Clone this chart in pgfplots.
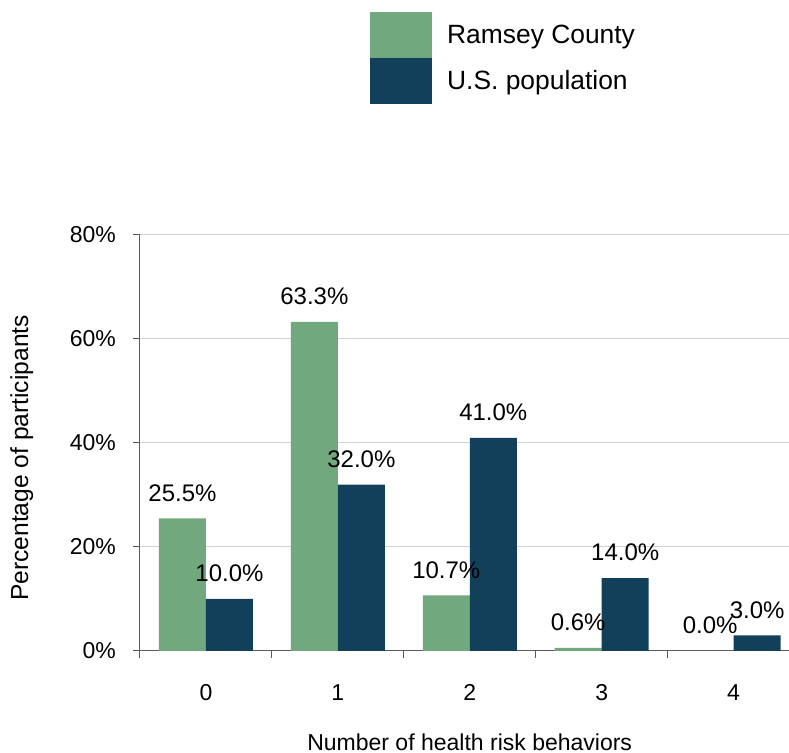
\documentclass[border=0pt]{standalone}
\usepackage{pgfplots}
\pgfplotsset{compat=1.18}
\usepackage{fontspec}
\setmainfont{Liberation Sans}
\definecolor{rcgreen}{HTML}{71A87E}
\definecolor{usblue}{HTML}{12405A}
\definecolor{axisgray}{HTML}{5A5A5A}
\pgfplotsset{sqlegend/.style={legend image code/.code={\fill[##1,draw=none] (0pt,-11.5pt) rectangle (31pt,11.5pt);}}}
\begin{document}
\begin{tikzpicture}[font=\fontsize{11.5}{13.8}\selectfont]
\path[use as bounding box] (-70pt,-51pt) rectangle (324.5pt,325.5pt);
\begin{axis}[
  scale only axis, width=324.5pt, height=208pt,
  ybar=0pt, bar width=23.5pt,
  xmin=-0.5, xmax=4.42, ymin=0, ymax=80,
  axis lines*=left,
  axis line style={axisgray, line width=0.5pt},
  xtick={0,1,2,3,4},
  xticklabels={0,1,2,3,4},
  minor xtick={-0.5,0.5,1.5,2.5,3.5,4.5},
  major x tick style={draw=none},
  ytick={0,20,40,60,80},
  yticklabel={\pgfmathprintnumber{\tick}\%},
  tick align=outside, major tick length=3.5pt, minor tick length=3.5pt,
  tick style={axisgray, line width=0.5pt},
  ymajorgrids, grid style={gray!35, line width=0.5pt},
  /pgf/number format/assume math mode=true,
  xticklabel style={yshift=-9.8pt},
  yticklabel style={xshift=-5pt},
  xlabel={Number of health risk behaviors},
  ylabel={Percentage of participants},
  xlabel style={at={(axis description cs:0.508,-0.219)}, anchor=center},
  ylabel style={at={(axis description cs:-0.182,0.464)}, anchor=center,
    font=\fontsize{12.3}{14.5}\selectfont},
  nodes near coords={\pgfmathprintnumber[fixed,fixed zerofill,precision=1]{\pgfplotspointmeta}\%},
  nodes near coords style={yshift=5pt, font=\fontsize{12}{14}\selectfont},
  legend style={at={(axis description cs:0.354,1.536)}, anchor=north west,
    draw=none, fill=none, inner sep=0pt, row sep=0pt, column sep=7.5pt,
    nodes={inner sep=0pt, anchor=west}, font=\fontsize{13.2}{15.5}\selectfont},
  legend cell align=left,
]
\addplot[fill=rcgreen, draw=none, sqlegend] coordinates {(0,25.5) (1,63.3) (2,10.7) (3,0.6) (4,0.0)};
\addplot[fill=usblue, draw=none, sqlegend] coordinates {(0,10.0) (1,32.0) (2,41.0) (3,14.0) (4,3.0)};
\legend{Ramsey County, U.S. population}
\end{axis}
\end{tikzpicture}
\end{document}
